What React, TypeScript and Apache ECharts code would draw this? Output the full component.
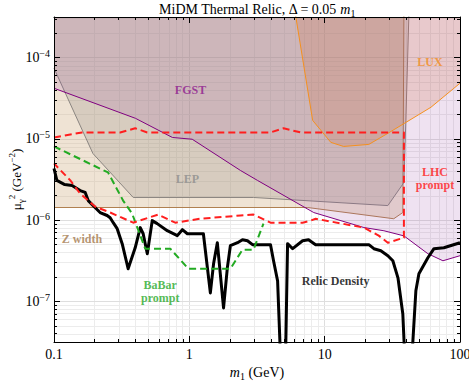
import React, { useEffect, useRef } from "react";
import * as echarts from "echarts";

const SERIF = "'Liberation Serif', 'Times New Roman', serif";

// ---- axes ----
const xRange = [0.1, 100];
const yRange = [3.1623e-8, 3.1623e-4];
const xMajorTicks = [0.1, 1, 10, 100];
const xTickLabels = ["0.1", "1", "10", "100"];
const yMajorTicks = [1e-7, 1e-6, 1e-5, 1e-4];
const minorMultipliers = [2, 3, 4, 5, 6, 7, 8, 9];

// ---- data: [m1 (GeV), mu^2 (GeV^-2)] ----
const relicDensity = [
  [0.1, 4.32e-6], [0.105, 3.08e-6], [0.12, 2.74e-6], [0.136, 2.67e-6], [0.156, 2.31e-6],
  [0.17, 2.19e-6], [0.179, 1.74e-6], [0.201, 1.43e-6], [0.219, 1.24e-6], [0.247, 1.14e-6],
  [0.26, 1.07e-6], [0.274, 9.3e-7], [0.293, 7.85e-7], [0.319, 5.13e-7], [0.353, 2.52e-7],
  [0.398, 4.57e-7], [0.434, 8.08e-7], [0.456, 6.8e-7], [0.489, 3.86e-7], [0.532, 9.86e-7],
  [0.579, 9.06e-7], [0.687, 7.41e-7], [0.815, 6.44e-7], [0.888, 7.63e-7], [0.967, 6.8e-7],
  [1.27, 6.8e-7], [1.43, 1.27e-7], [1.51, 2.9e-7], [1.61, 5.27e-7], [1.79, 8.3e-8],
  [1.91, 2.6e-7], [2.01, 4.84e-7], [2.27, 5.27e-7], [2.47, 5.74e-7], [2.69, 5.58e-7],
  [2.93, 4.99e-7], [3.98, 4.99e-7], [4.19, 3.16e-7], [4.49, 1.79e-7], [4.72, 2e-8],
  [5.14, 2e-8], [5.32, 5.13e-7], [5.8, 4.45e-7], [6.87, 5.58e-7], [7.6, 5.74e-7],
  [8.57, 4.99e-7], [21.2, 4.99e-7], [23.1, 4.45e-7], [26, 4.2e-7], [29.3, 3.65e-7],
  [31.9, 3.16e-7], [34.8, 1.95e-7], [37.8, 7e-8], [39.1, 2e-8], [44.1, 2e-8],
  [47.2, 1.35e-7], [49.7, 2.19e-7], [57.9, 3.44e-7], [64.2, 4.45e-7], [76, 4.57e-7],
  [100, 5.27e-7],
];

const babarPrompt = [
  [0.1, 8.07e-6], [0.251, 3.86e-6], [0.324, 1.74e-6], [0.378, 1.2e-6], [0.472, 4.45e-7],
  [0.723, 4.45e-7], [0.985, 2.52e-7], [2.01, 2.52e-7], [2.47, 4.32e-7], [2.98, 4.32e-7],
  [3.53, 9.06e-7],
];

const lhcPrompt = [
  [0.1, 1.04e-5], [0.161, 1.2e-5], [0.308, 1.2e-5], [0.398, 1.35e-5], [0.489, 1.2e-5],
  [3.98, 1.2e-5], [4.97, 1.35e-5], [6.64, 1.2e-5], [38.5, 1.2e-5], [38.5, 6.08e-7],
  [29.3, 5.27e-7], [25.1, 6.44e-7], [19.5, 8.08e-7], [8.58, 1.04e-6], [7.87, 9.86e-7],
  [6.87, 9.3e-7], [3.98, 9.3e-7], [2.98, 1.17e-6], [2.39, 1.14e-6], [1.2, 1.04e-6],
  [0.787, 9.3e-7], [0.589, 1.17e-6], [0.385, 9.3e-7], [0.26, 1.24e-6], [0.201, 1.47e-6],
  [0.156, 2.12e-6], [0.132, 3.08e-6], [0.1, 4.99e-6],
];

const fgstBound = [
  [0.1, 4.2e-5], [0.4, 1.79e-5], [0.75, 1.04e-5], [1.05, 9.9e-6], [2.39, 4.08e-6],
  [3.19, 3.08e-6], [8.3, 1.24e-6], [19.5, 8.1e-7], [27.4, 7.4e-7], [38.5, 6.4e-7],
  [57.9, 3.86e-7], [74.8, 3.16e-7], [100, 3.65e-7],
];

const lepBound = [
  [0.1, 7.4e-5], [0.194, 6.6e-6], [0.385, 1.9e-6], [2.98, 1.9e-6], [29.3, 1.51e-6],
  [38.5, 2.9e-6], [39.8, 1.69e-5], [41.9, 3.3e-4],
];

const zWidthBound = [
  [0.1, 1.43e-6], [7.48, 1.43e-6], [32.4, 1.04e-6], [37.8, 1.24e-6], [38.5, 3.3e-4],
];

const luxBound = [
  [6.1, 3.3e-4], [8.15, 1.69e-5], [11.1, 9.06e-6], [13.8, 8.07e-6], [21.2, 8.55e-6],
  [29.3, 1.17e-5], [61, 2.45e-5], [100, 4.84e-5],
];

const regionLabels = [
  { text: "FGST", m: 1.02, mu: 3.97e-5, color: "#8e1b8e" },
  { text: "LEP", m: 0.966, mu: 3.25e-6, color: "#8c8c8c" },
  { text: "LUX", m: 60, mu: 8.8e-5, color: "#f28c1e" },
  { text: "LHC\nprompt", m: 65.3, mu: 3.25e-6, color: "#ff1a1a" },
  { text: "Z width", m: 0.161, mu: 5.9e-7, color: "#a4794c" },
  { text: "BaBar\nprompt", m: 0.61, mu: 1.31e-7, color: "#2aaa2a" },
  { text: "Relic Density", m: 12.05, mu: 1.79e-7, color: "#000000" },
];

const lg = Math.log10;
const toLog = (pts: number[][]) => pts.map(([m, mu]) => [lg(m), lg(mu)]);

function minorValues(lo: number, hi: number): number[] {
  const out: number[] = [];
  for (let d = Math.floor(lo) - 1; d <= Math.ceil(hi); d++) {
    for (const k of minorMultipliers) {
      const v = d + lg(k);
      if (v > lo + 1e-9 && v < hi - 1e-9) out.push(v);
    }
  }
  return out;
}

function buildOption() {
  const X0 = lg(xRange[0]), X1 = lg(xRange[1]);
  const Y0 = lg(yRange[0]), Y1 = lg(yRange[1]);
  const xMaj = xMajorTicks.map(lg);
  const yMaj = yMajorTicks.map(lg);
  const xMin = minorValues(X0, X1);
  const yMin = minorValues(Y0, Y1);

  const rich = (size: number) => ({
    t: { fontFamily: SERIF, fontSize: size, color: "#000", lineHeight: 18, verticalAlign: "middle" },
    i: { fontFamily: SERIF, fontSize: size, color: "#000", fontStyle: "italic", lineHeight: 18, verticalAlign: "middle" },
    sup: { fontFamily: SERIF, fontSize: size - 4, color: "#000", lineHeight: 9, verticalAlign: "top" },
    sub: { fontFamily: SERIF, fontSize: size - 4, color: "#000", lineHeight: 9, verticalAlign: "bottom" },
  });

  const common = (min: number, max: number) => ({
    type: "value", min, max, gridIndex: 0, z: 10,
    splitLine: { show: false }, minorTick: { show: false }, minorSplitLine: { show: false },
  });
  const tick = (values: number[], len: number) => ({
    show: true, inside: true, length: len, customValues: values, lineStyle: { color: "#000", width: 1 },
  });
  const line = (show: boolean) => ({ show, onZero: false, lineStyle: { color: "#000", width: 1 } });

  const xAxis = [
    {
      ...common(X0, X1), position: "bottom", axisLine: line(true), axisTick: tick(xMaj, 6),
      axisLabel: {
        show: true, customValues: xMaj, margin: 5, fontFamily: SERIF, fontSize: 14, color: "#000",
        formatter: (v: number) => {
          const idx = xMaj.findIndex((t) => Math.abs(t - v) < 1e-6);
          return idx >= 0 ? xTickLabels[idx] : "";
        },
      },
      name: "{i|m}{sub|1}{t| (GeV)}", nameLocation: "middle", nameGap: 21, nameMoveOverlap: false,
      nameTextStyle: { rich: rich(14) },
    },
    { ...common(X0, X1), position: "bottom", axisLine: line(false), axisTick: tick(xMin, 3), axisLabel: { show: false } },
    { ...common(X0, X1), position: "top", axisLine: line(true), axisTick: tick(xMaj, 6), axisLabel: { show: false } },
    { ...common(X0, X1), position: "top", axisLine: line(false), axisTick: tick(xMin, 3), axisLabel: { show: false } },
  ];
  const yAxis = [
    {
      ...common(Y0, Y1), position: "left", axisLine: line(true), axisTick: tick(yMaj, 6),
      axisLabel: {
        show: true, customValues: yMaj, margin: 4, rich: rich(14),
        formatter: (v: number) => `{t|10}{sup|\u2212${Math.round(-v)}}`,
      },
      name: "{t|\u03bc}{sub|\u03b3}{sup|2}{t| (GeV}{sup|\u22122}{t|)}", nameLocation: "middle", nameGap: 29,
      nameMoveOverlap: false, nameRotate: 90, nameTextStyle: { rich: rich(13) },
    },
    { ...common(Y0, Y1), position: "left", axisLine: line(false), axisTick: tick(yMin, 3), axisLabel: { show: false } },
    { ...common(Y0, Y1), position: "right", axisLine: line(true), axisTick: tick(yMaj, 6), axisLabel: { show: false } },
    { ...common(Y0, Y1), position: "right", axisLine: line(false), axisTick: tick(yMin, 3), axisLabel: { show: false } },
  ];

  const gridLines = [
    ...xMin.map((v) => ({ xAxis: v, lineStyle: { color: "#ececec", width: 1, type: "solid" } })),
    ...xMaj.filter((v) => v > X0 + 1e-6 && v < X1 - 1e-6).map((v) => ({ xAxis: v, lineStyle: { color: "#dedede", width: 1, type: "solid" } })),
    ...yMin.map((v) => ({ yAxis: v, lineStyle: { color: "#ececec", width: 1, type: "solid" } })),
    ...yMaj.map((v) => ({ yAxis: v, lineStyle: { color: "#dedede", width: 1, type: "solid" } })),
  ];

  const region = (name: string, pts: number[][], lineColor: string, fill: string, z: number) => ({
    type: "line", name, data: toLog(pts), symbol: "none", showSymbol: false, z, silent: true,
    lineStyle: { color: lineColor, width: 1 },
    areaStyle: { origin: "end", color: fill, opacity: 1 },
  });
  const curve = (name: string, pts: number[][], color: string, width: number, dashed: boolean, z: number) => ({
    type: "line", name, data: toLog(pts), symbol: "none", showSymbol: false, z, silent: true,
    lineStyle: { color, width, type: dashed ? [7, 4] : "solid", cap: "butt", join: "round" },
  });

  return {
    animation: false,
    backgroundColor: "#ffffff",
    grid: { left: 54, right: 9, top: 17, bottom: 42, containLabel: false, outerBoundsMode: "none" },
    xAxis,
    yAxis,
    graphic: [
      {
        type: "text", x: 257, y: 9, z: 20,
        style: {
          text: "{t|MiDM Thermal Relic, \u0394 = 0.05 }{i|m}{sub|1}",
          rich: rich(14), align: "center", verticalAlign: "middle",
          textAlign: "center", textVerticalAlign: "middle",
        },
      },
    ],
    series: [
      {
        type: "line", name: "grid", data: [[X0, Y0]], symbol: "none", showSymbol: false, silent: true, z: 1,
        lineStyle: { opacity: 0 },
        markLine: { z: 1, silent: true, symbol: ["none", "none"], label: { show: false }, animation: false, data: gridLines },
      },
      region("Z width", zWidthBound, "#b08050", "rgba(205,170,125,0.33)", 2),
      region("LEP", lepBound, "#8a8580", "rgba(120,115,110,0.2)", 3),
      region("FGST", fgstBound, "#800080", "rgba(150,60,160,0.15)", 4),
      region("LUX", luxBound, "#f5901e", "rgba(205,105,60,0.2)", 5),
      curve("Relic Density", relicDensity, "#000000", 3, false, 6),
      curve("BaBar prompt", babarPrompt, "#22aa22", 2, true, 7),
      curve("LHC prompt", lhcPrompt, "#ff1e1e", 2, true, 8),
      {
        type: "scatter", name: "labels", z: 9, silent: true, symbolSize: 0,
        data: regionLabels.map((l) => ({
          value: [lg(l.m), lg(l.mu)],
          label: {
            show: true, position: "inside", formatter: l.text, color: l.color,
            fontFamily: SERIF, fontWeight: "bold", fontSize: 12, lineHeight: 13,
          },
        })),
      },
    ],
  };
}

export default function App() {
  const ref = useRef<HTMLDivElement>(null);
  useEffect(() => {
    document.body.style.margin = "0";
    if (!ref.current) return;
    const chart = echarts.init(ref.current, undefined, { renderer: "svg" });
    chart.setOption(buildOption() as any);
    return () => chart.dispose();
  }, []);
  return <div ref={ref} style={{ width: 469, height: 384 }} />;
}
